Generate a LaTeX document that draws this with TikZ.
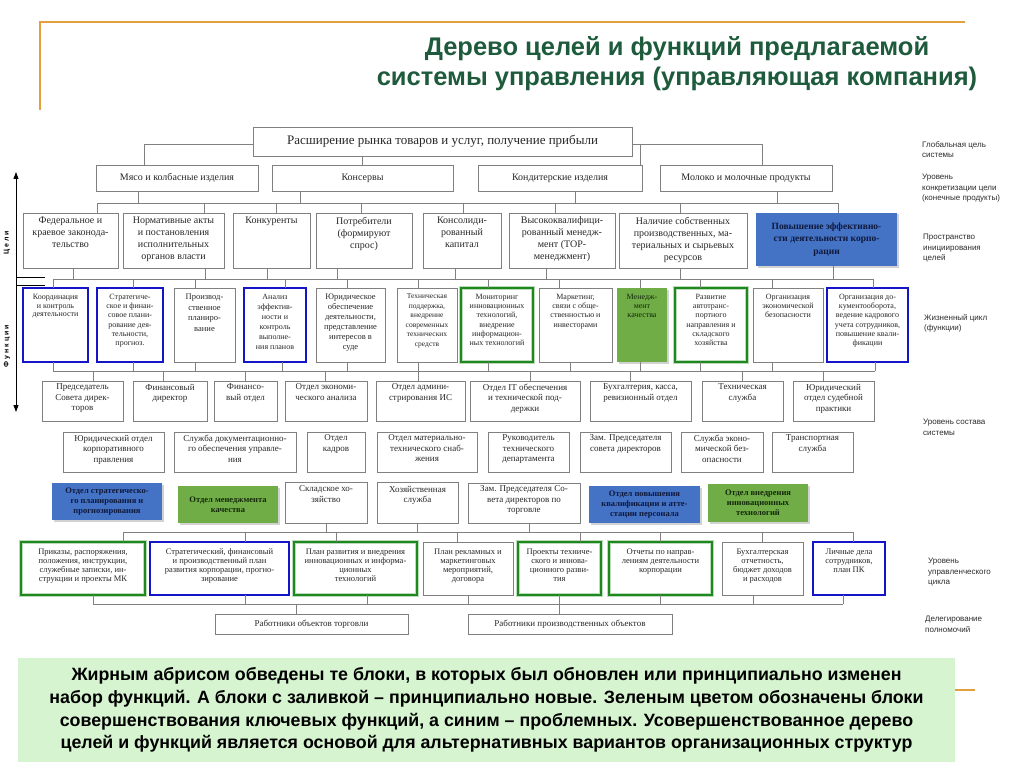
\documentclass[tikz,border=0pt]{standalone}
\usepackage{fontspec}
\setmainfont{Liberation Serif}
\newfontfamily\sansf{Liberation Sans}
\usetikzlibrary{arrows.meta,shadows}
\definecolor{bordgray}{RGB}{128,128,128}
\definecolor{boxtxt}{RGB}{40,40,40}
\definecolor{bluebd}{RGB}{20,20,200}
\definecolor{greenbd}{RGB}{30,135,30}
\definecolor{bluefill}{RGB}{68,114,196}
\definecolor{greenfill}{RGB}{112,173,71}
\definecolor{navytxt}{RGB}{15,25,60}
\definecolor{dgtxt}{RGB}{20,40,10}
\definecolor{titlegreen}{RGB}{30,90,60}
\definecolor{notefill}{RGB}{214,244,208}
\definecolor{orangeln}{RGB}{228,160,60}
\definecolor{labtxt}{RGB}{45,45,45}
\newcommand\bx[8]{\node[#6] (#1) at ({(#2+#4)/2},{(#3+#5)/2}) {\parbox[c][\dimexpr#5pt-#3pt\relax][t]{\dimexpr#4pt-#2pt\relax}{\vspace*{#7pt}\centering #8\par}};}
\newcommand\bxc[7]{\node[#6] (#1) at ({(#2+#4)/2},{(#3+#5)/2}) {\parbox[c][\dimexpr#5pt-#3pt\relax][c]{\dimexpr#4pt-#2pt\relax}{\centering #7\par}};}
\tikzset{
  fs/.style 2 args={font=\fontsize{#1}{#2}\selectfont},
  box/.style={draw=bordgray, line width=0.7pt, inner sep=0pt, outer sep=0pt, text=boxtxt},
  bbx/.style={box, draw=bluebd, line width=2.4pt},
  gbx/.style={box, draw=greenbd, line width=2.4pt, preaction={draw=greenbd!30, line width=4.2pt}},
  bfl/.style={box, draw=none, fill=bluefill, text=navytxt, drop shadow={shadow xshift=1.5pt, shadow yshift=-1.5pt, opacity=0.35}},
  gfl/.style={box, draw=none, fill=greenfill, text=dgtxt, drop shadow={shadow xshift=1.5pt, shadow yshift=-1.5pt, opacity=0.35}},
  conn/.style={draw=bordgray, line width=0.7pt},
  rlab/.style={font=\sansf\fontsize{8}{10.5}\selectfont, text=labtxt, align=left, anchor=north west, inner sep=0pt},
  vlab/.style={font=\sansf\bfseries\fontsize{7}{8}\selectfont, rotate=90, inner sep=0pt},
  orn/.style={draw=orangeln, line width=1.2pt}
}
\begin{document}
\begin{tikzpicture}[x=1pt,y=-1pt]
\fill[white] (0,0) rectangle (1024,767);
\useasboundingbox (0,0) rectangle (1024,767);
% decorative template lines
\draw[orn] (40,110) -- (40,22) -- (965,22);
\draw[orn] (955,690) -- (975,690);
% title
\node[font=\sansf\bfseries\fontsize{25.5}{30}\selectfont, text=titlegreen, align=center] (title) at (677,64) {Дерево целей и функций предлагаемой\\системы управления (управляющая компания)};
% top
\bxc{T}{253}{127}{632}{156}{box,fs={13}{15}}{Расширение рынка товаров и услуг, получение прибыли}
% row 2
\bxc{r2a}{96}{165}{258}{191}{box,fs={10}{12}}{Мясо и колбасные изделия}
\bxc{r2b}{272}{165}{453}{191}{box,fs={10}{12}}{Консервы}
\bxc{r2c}{478}{165}{642}{191}{box,fs={10}{12}}{Кондитерские изделия}
\bxc{r2d}{660}{165}{832}{191}{box,fs={10}{12}}{Молоко и молочные продукты}
% row 3
\bx{r3a}{23}{213}{118}{268}{box,fs={10}{12}}{4}{Федеральное и\\краевое законода-\\тельство}
\bx{r3b}{123}{213}{224}{268}{box,fs={10}{12}}{4}{Нормативные акты\\и постановления\\исполнительных\\органов власти}
\bx{r3c}{233}{213}{310}{268}{box,fs={10}{12}}{4}{Конкуренты}
\bx{r3d}{316}{213}{412}{268}{box,fs={10}{12}}{4}{Потребители\\(формируют\\спрос)}
\bx{r3e}{423}{213}{501}{268}{box,fs={10}{12}}{4}{Консолиди-\\рованный\\капитал}
\bx{r3f}{509}{213}{615}{268}{box,fs={10}{12}}{4}{Высококвалифици-\\рованный менедж-\\мент (ТОР-\\менеджмент)}
\bx{r3g}{619}{213}{747}{268}{box,fs={10}{12}}{4}{Наличие собственных\\производственных, ма-\\териальных и сырьевых\\ресурсов}
\bxc{r3h}{756}{213}{897}{266}{bfl,fs={9.5}{12.5}}{\bfseries Повышение эффективно-\\сти деятельности корпо-\\рации}
% row 4
\bx{r4a}{23}{288}{88}{362}{bbx,fs={8}{8.8}}{6}{Координация\\и контроль\\деятельности}
\bx{r4b}{97}{288}{163}{362}{bbx,fs={8}{9.3}}{6}{Стратегиче-\\ское и финан-\\совое плани-\\рование дея-\\тельности,\\прогноз.}
\bx{r4c}{174}{288}{235}{362}{box,fs={8.5}{10.5}}{6}{Производ-\\ственное\\планиро-\\вание}
\bx{r4d}{244}{288}{306}{362}{bbx,fs={8}{10}}{6}{Анализ\\эффектив-\\ности и\\контроль\\выполне-\\ния планов}
\bx{r4e}{316}{288}{385}{362}{box,fs={8.5}{10}}{6}{Юридическое\\обеспечение\\деятельности,\\представление\\интересов в\\суде}
\bx{r4f}{397}{288}{457}{362}{box,fs={7.5}{9.5}}{6}{Техническая\\поддержка,\\внедрение\\современных\\технических\\средств}
\bx{r4g}{461}{288}{533}{362}{gbx,fs={8}{9.3}}{6}{Мониторинг\\инновационных\\технологий,\\внедрение\\информацион-\\ных технологий}
\bx{r4h}{539}{288}{612}{362}{box,fs={8}{9.3}}{6}{Маркетинг,\\связи с обще-\\ственностью и\\инвесторами}
\bx{r4i}{617}{288}{667}{362}{gfl,fs={8}{9}}{6}{Менедж-\\мент\\качества}
\bx{r4j}{675}{288}{747}{362}{gbx,fs={8}{9.3}}{6}{Развитие\\автотранс-\\портного\\направления и\\складского\\хозяйства}
\bx{r4k}{753}{288}{823}{362}{box,fs={8}{9.3}}{6}{Организация\\экономической\\безопасности}
\bx{r4l}{827}{288}{908}{362}{bbx,fs={8}{9.3}}{6}{Организация до-\\кументооборота,\\ведение кадрового\\учета сотрудников,\\повышение квали-\\фикации}
% row 5
\bx{r5a}{42}{381}{123}{421}{box,fs={9}{10.5}}{3}{Председатель\\Совета дирек-\\торов}
\bx{r5b}{133}{381}{207}{421}{box,fs={9}{10.5}}{3}{Финансовый\\директор}
\bx{r5c}{214}{381}{277}{421}{box,fs={9}{10.5}}{3}{Финансо-\\вый отдел}
\bx{r5d}{285}{381}{367}{421}{box,fs={9}{10.5}}{3}{Отдел экономи-\\ческого анализа}
\bx{r5e}{376}{381}{465}{421}{box,fs={9}{10.5}}{3}{Отдел админи-\\стрирования ИС}
\bx{r5f}{470}{381}{580}{421}{box,fs={9}{10.5}}{3}{Отдел IT обеспечения\\и технической под-\\держки}
\bx{r5g}{590}{381}{691}{421}{box,fs={9}{10.5}}{3}{Бухгалтерия, касса,\\ревизионный отдел}
\bx{r5h}{702}{381}{783}{421}{box,fs={9}{10.5}}{3}{Техническая\\служба}
\bx{r5i}{793}{381}{874}{421}{box,fs={9}{10.5}}{3}{Юридический\\отдел судебной\\практики}
% row 6
\bx{r6a}{63}{432}{164}{472}{box,fs={9}{10.5}}{3}{Юридический отдел\\корпоративного\\правления}
\bx{r6b}{174}{432}{296}{472}{box,fs={9}{10.5}}{3}{Служба документационно-\\го обеспечения управле-\\ния}
\bx{r6c}{307}{432}{365}{472}{box,fs={9}{10.5}}{3}{Отдел\\кадров}
\bx{r6d}{377}{432}{477}{472}{box,fs={9}{10.5}}{3}{Отдел материально-\\технического снаб-\\жения}
\bx{r6e}{488}{432}{569}{472}{box,fs={9}{10.5}}{3}{Руководитель\\технического\\департамента}
\bx{r6f}{580}{432}{671}{472}{box,fs={9}{10.5}}{3}{Зам. Председателя\\совета директоров}
\bx{r6g}{681}{432}{763}{472}{box,fs={9}{10.5}}{3}{Служба эконо-\\мической без-\\опасности}
\bx{r6h}{772}{432}{853}{472}{box,fs={9}{10.5}}{3}{Транспортная\\служба}
% row 7
\bxc{r7a}{52}{483}{162}{520}{bfl,fs={8.5}{10}}{\bfseries Отдел стратегическо-\\го планирования и\\прогнозирования}
\bxc{r7b}{178}{486}{278}{523}{gfl,fs={8.5}{10}}{\bfseries Отдел менеджмента\\качества}
\bx{r7c}{285}{482}{367}{523}{box,fs={9}{10.5}}{4}{Складское хо-\\зяйство}
\bx{r7d}{377}{482}{458}{523}{box,fs={9}{10.5}}{4}{Хозяйственная\\служба}
\bx{r7e}{468}{483}{580}{523}{box,fs={9}{10.5}}{3}{Зам. Председателя Со-\\вета директоров по\\торговле}
\bxc{r7f}{589}{486}{700}{523}{bfl,fs={8.5}{10}}{\bfseries Отдел повышения\\квалификации и атте-\\стации персонала}
\bxc{r7g}{708}{484}{808}{522}{gfl,fs={8.5}{10}}{\bfseries Отдел внедрения\\инновационных\\технологий}
% row 8
\bx{r8a}{21}{542}{145}{595}{gbx,fs={8.5}{9}}{7}{Приказы, распоряжения,\\положения, инструкции,\\служебные записки, ин-\\струкции и проекты МК}
\bx{r8b}{150}{542}{289}{595}{bbx,fs={8.5}{9}}{7}{Стратегический, финансовый\\и производственный план\\развития корпорации, прогно-\\зирование}
\bx{r8c}{294}{542}{417}{595}{gbx,fs={8.5}{9}}{7}{План развития и внедрения\\инновационных и информа-\\ционных\\технологий}
\bx{r8d}{423}{542}{513}{595}{box,fs={8.5}{9}}{7}{План рекламных и\\маркетинговых\\мероприятий,\\договора}
\bx{r8e}{518}{542}{601}{595}{gbx,fs={8.5}{9}}{7}{Проекты техниче-\\ского и иннова-\\ционного разви-\\тия}
\bx{r8f}{609}{542}{712}{595}{gbx,fs={8.5}{9}}{7}{Отчеты по направ-\\лениям деятельности\\корпорации}
\bx{r8g}{722}{542}{803}{595}{box,fs={8.5}{9}}{7}{Бухгалтерская\\отчетность,\\бюджет доходов\\и расходов}
\bx{r8h}{813}{542}{885}{595}{bbx,fs={8.5}{9}}{7}{Личные дела\\сотрудников,\\план ПК}
% row 9
\bxc{r9a}{215}{614}{408}{634}{box,fs={9}{10.5}}{Работники объектов торговли}
\bxc{r9b}{468}{614}{672}{634}{box,fs={9}{10.5}}{Работники производственных объектов}
% connectors: top to row 2
\draw[conn] ([yshift=-3pt]T.west) -| ([xshift=-33pt]r2a.north);
\draw[conn] ([yshift=-3pt]T.east) -| ([xshift=16pt]r2d.north);
\draw[conn] ([xshift=80pt]r2c.north) |- ([yshift=-3pt]T.east);
\draw[conn] (T.south -| r2b.north) -- (r2b.north);
% row 2 to row 3
\foreach \n/\d in {r2a/-39, r2b/-62.5, r2c/15, r2d/31} \draw[conn] ([xshift=\d pt]\n.south) -- ++(0,12);
\foreach \n/\d in {r3a/26.5, r3b/30.5, r3c/4.5, r3d/-3, r3e/1, r3f/-7, r3g/-3, r3h/11.5} \draw[conn] ([xshift=\d pt]\n.north) -- ++(0,-10);
\draw[conn] ([xshift=26.5pt,yshift=10pt]r3a.north) -- ([xshift=11.5pt,yshift=10pt]r3h.north);
% row 3 to row 4
\foreach \n/\d/\l in {r3a/2.5/11, r3b/31.5/11, r3c/-4.5/11, r3d/-27/11, r3e/-7/11, r3f/-16/11, r3g/-3/11, r3h/6.5/13} \draw[conn] ([xshift=\d pt]\n.south) -- ++(0,\l);
\foreach \n/\d in {r4a/-2.5, r4b/3, r4c/-9.5, r4d/10, r4e/-3.5, r4f/-9, r4g/-9, r4h/-16.5, r4i/-2, r4j/-11, r4k/-16, r4l/5.5} \draw[conn] ([xshift=\d pt]\n.north) -- ++(0,-9);
\draw[conn] ([xshift=-2.5pt,yshift=9pt]r4a.north) -- ([xshift=5.5pt,yshift=9pt]r4l.north);
% row 4 to row 5
\foreach \n/\d in {r4a/-2.5, r4b/3, r4c/-9.5, r4d/7, r4e/-3.5, r4f/-9, r4g/-9, r4h/-5.5, r4i/-2, r4j/-11, r4k/-16, r4l/7.5} \draw[conn] ([xshift=\d pt]\n.south) -- ++(0,9);
\foreach \n/\d in {r5a/10.5, r5b/-7, r5c/0, r5d/-1, r5e/-2.5, r5f/5, r5g/-10.5, r5h/0, r5i/-10.5} \draw[conn] ([xshift=\d pt]\n.north) -- ++(0,-10);
\draw[conn] ([xshift=-2.5pt,yshift=-9pt]r4a.south) -- ([xshift=7.5pt,yshift=-9pt]r4l.south);
% row 7 to row 8
\foreach \n/\d in {r7c/0, r7d/0, r7e/5} \draw[conn] ([xshift=\d pt]\n.south) -- ++(0,9);
\foreach \n/\d in {r8a/40, r8b/25.5, r8c/-19.5, r8d/-11, r8e/20.5, r8f/0, r8g/0, r8h/4} \draw[conn] ([xshift=\d pt]\n.north) -- ++(0,-10);
\draw[conn] ([xshift=40pt,yshift=10pt]r8a.north) -- ([xshift=4pt,yshift=10pt]r8h.north);
% row 8 to row 9
\foreach \n/\d in {r8a/10, r8b/25.5, r8c/11.5, r8d/0, r8f/0, r8g/-9.5, r8h/-6} \draw[conn] ([xshift=\d pt]\n.south) -- ++(0,9);
\draw[conn] ([xshift=10pt,yshift=-9pt]r8a.south) -- ([xshift=-6pt,yshift=-9pt]r8h.south);
\draw[conn] (r8e.south) -- (r8e.south |- r9b.north);
\draw[conn] ([xshift=-15.5pt]r9a.north) -- ++(0,-10);
% left arrow and labels
\coordinate (arrT) at (16,172);
\coordinate (arrB) at (16,412);
\coordinate (tk1) at (45,277);
\coordinate (tk2) at (45,285);
\draw[line width=1pt, {Triangle[length=7pt,width=5pt]}-{Triangle[length=7pt,width=5pt]}] (arrT) -- (arrB);
\draw[line width=0.8pt] (tk1) -- (tk1 -| arrT);
\draw[line width=0.8pt] (tk2) -- (tk2 -| arrT);
\node[vlab] (vl1) at (7,243) {Ц е л и};
\node[vlab] (vl2) at (7,346) {Ф у н к ц и и};
% right labels
\node[rlab] (lb1) at (922,141) {Глобальная цель\\системы};
\node[rlab] (lb2) at (922,174) {Уровень\\конкретизации цели\\(конечные продукты)};
\node[rlab] (lb3) at (923,234) {Пространство\\инициирования\\целей};
\node[rlab] (lb4) at (924,314) {Жизненный цикл\\(функции)};
\node[rlab] (lb5) at (923,419) {Уровень состава\\системы};
\node[rlab] (lb6) at (928,558) {Уровень\\управленческого\\цикла};
\node[rlab] (lb7) at (925,616) {Делегирование\\полномочий};
% note
\node[fill=notefill, minimum width=937pt, minimum height=104pt, inner sep=0pt] (note) at (486.5,710) {};
\node[font=\sansf\bfseries\fontsize{17.8}{22.7}\selectfont, align=center, text=black] (notetxt) at (note.center) {Жирным абрисом обведены те блоки, в которых был обновлен или принципиально изменен\\набор функций. А блоки с заливкой – принципиально новые. Зеленым цветом обозначены блоки\\совершенствования ключевых функций, а синим – проблемных. Усовершенствованное дерево\\целей и функций является основой для альтернативных вариантов организационных структур};
\end{tikzpicture}
\end{document}
